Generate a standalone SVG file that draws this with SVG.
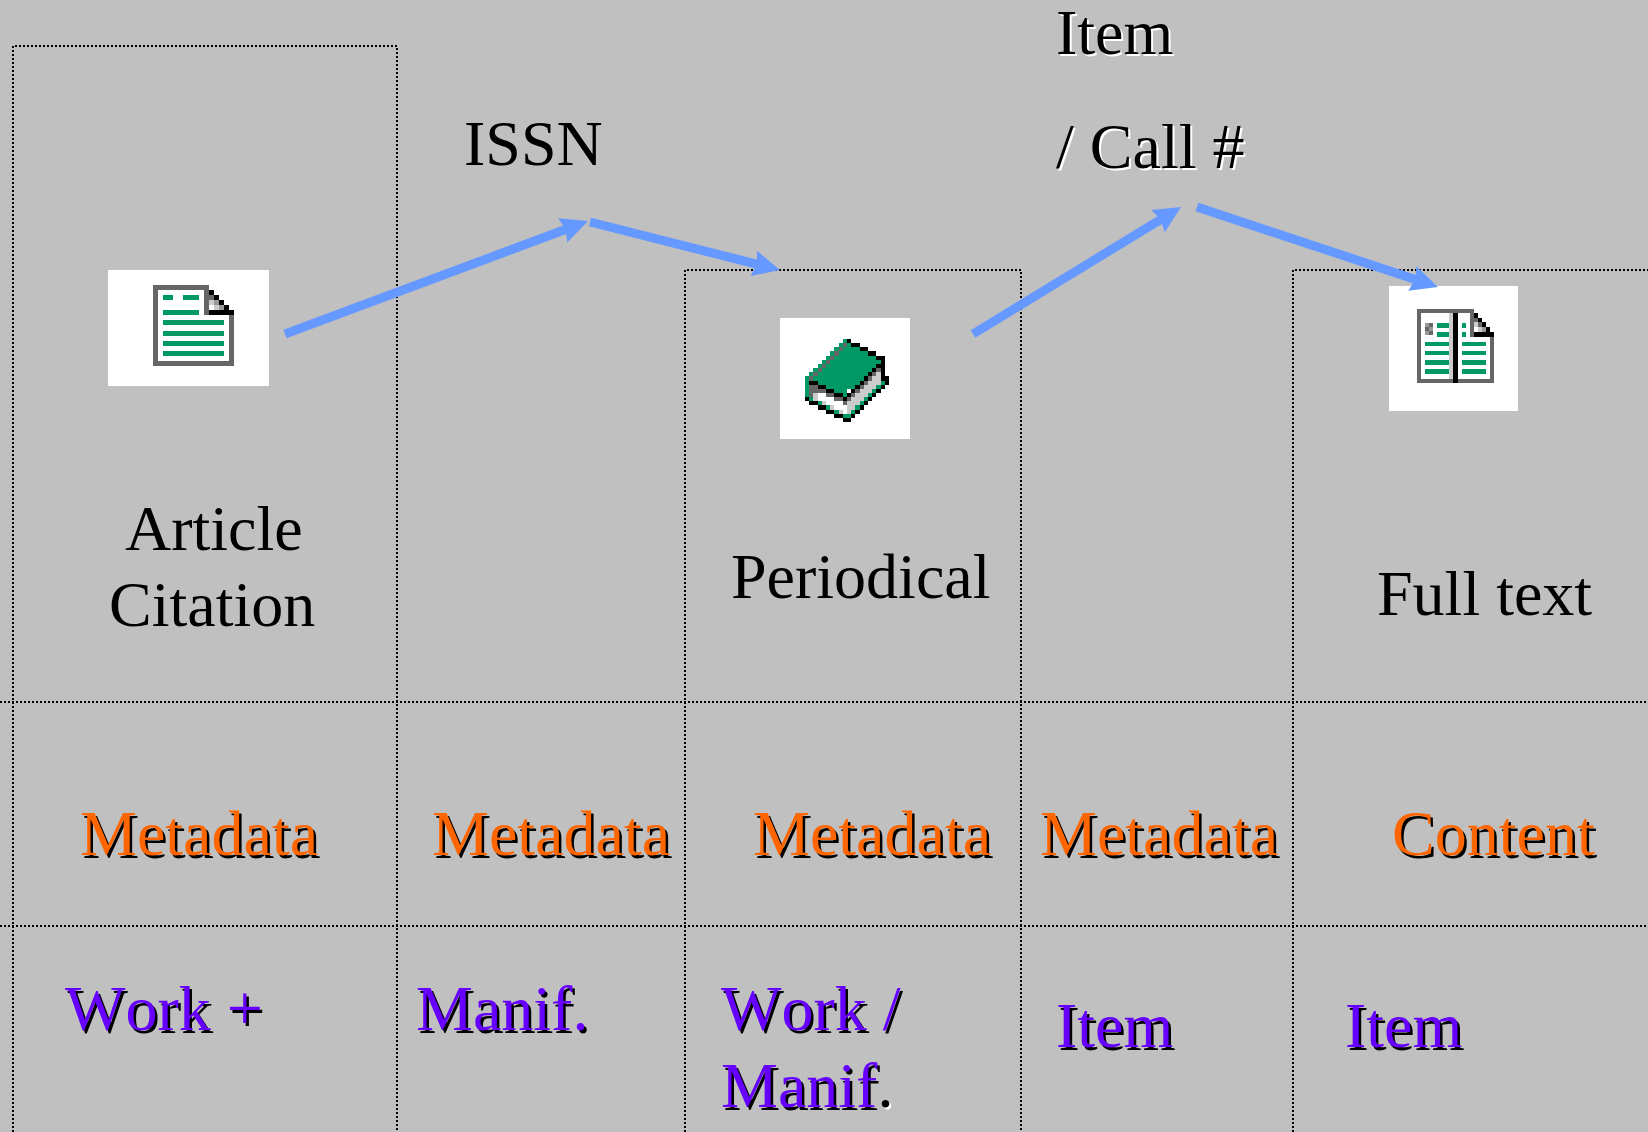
<svg xmlns="http://www.w3.org/2000/svg" width="1648" height="1132" viewBox="0 0 1648 1132">
<style>
text{font-family:"Liberation Serif","Times New Roman",serif;font-size:64px;font-kerning:none}
.k{fill:#000}
.o{fill:#f60;text-shadow:2.5px 2.5px 0 #000}
.p{fill:#60f;text-shadow:2.5px 2.5px 0 #000}
.w{fill:#000;text-shadow:2px 2px 0 #fff}
.grid{fill:none;stroke:#000;stroke-width:2;stroke-dasharray:2 2}
.arrow{fill:none;stroke:#69f;stroke-width:9;marker-end:url(#ah)}
.px{fill:none;stroke-width:1;shape-rendering:crispEdges}
.g{stroke:#096}.d{stroke:#666}.b{stroke:#000}.l{stroke:#ccc}.e{stroke:#fff}
.card{fill:#fff}
</style>
<defs>
<marker id="ah" markerUnits="userSpaceOnUse" markerWidth="30" markerHeight="30" refX="15" refY="14" orient="auto"><path d="M0 1L27 14L0 27L3 14Z" fill="#69f"/></marker>
</defs>
<rect width="1648" height="1132" fill="#c0c0c0"/>
<g id="grid" class="grid">
<path d="M13 1132V46H397V1132"/>
<path d="M685 1132V270H1021V1132"/>
<path d="M1293 1132V270H1648"/>
<path d="M0 702H1648M0 926H1648"/>
</g>
<g id="article">
<rect class="card" x="108" y="270" width="161" height="116"/>
<g transform="translate(153 285)" shape-rendering="crispEdges">
<path d="M0 0H56V30H76V76H5V5H51V30H56V30H81V81H0Z" fill="#666" fill-rule="evenodd"/>
<path d="M5 5H51V30H76V76H5Z" fill="#fff"/>
<path d="M10 10H20V15H10ZM30 10H46V15H30ZM10 25H46V30H10ZM10 35H71V40H10ZM10 46H71V51H10ZM10 56H71V61H10ZM10 66H71V71H10Z" fill="#096"/>
<path d="M56 5H61V10H56ZM61 10H66V15H61ZM66 15H71V20H66ZM71 20H76V25H71ZM56 25H81V30H56Z" fill="#000"/>
<path d="M56 10H61V15H56Z" fill="#666"/><path d="M56 15H61V20H56ZM61 20H66V25H61Z" fill="#ccc"/><path d="M61 15H66V20H61ZM66 20H71V25H66Z" fill="#999"/><path d="M56 20H61V25H56Z" fill="#fff"/>
</g>
<text class="k" x="125" y="550">Article</text>
<text class="k" x="109" y="626">Citation</text>
</g>
<g id="periodical">
<rect class="card" x="780" y="318" width="130" height="121"/>
<g class="px" transform="translate(805 339) scale(4.2 4.15)">
<path class="g" d="M9 .5h1M8 1.500h1M10 1.500h1M7 2.500h1M9 2.500h4M6 3.500h1M8 3.500h7M5 4.500h1M7 4.500h10M4 5.500h1M6 5.500h12M3 6.500h1M5 6.500h12M2 7.500h1M4 7.500h12M1 8.500h1M3 8.500h12M0 9.500h1M2 9.500h12M0 10.500h1M3 10.500h10M18 10.500h1M0 11.500h1M5 11.500h7M17 11.500h1M0 12.500h1M7 12.500h3M16 12.500h1M0 13.500h1M9 13.500h1M15 13.500h1M1 14.500h1M14 14.500h1M3 15.500h1M13 15.500h1M5 16.500h1M12 16.500h1M7 17.500h1M11 17.500h1M9 18.500h2"/>
<path class="b" d="M10 .5h1M11 1.500h2M13 2.500h2M15 3.500h2M17 4.500h2M18 5.500h1M17 6.500h2M16 7.500h1M18 7.500h1M15 8.500h1M18 8.500h1M14 9.500h1M18 9.500h2M1 10.500h2M13 10.500h1M19 10.500h1M3 11.500h2M12 11.500h1M18 11.500h1M5 12.500h2M11 12.500h1M17 12.500h1M7 13.500h2M10 13.500h1M16 13.500h1M0 14.500h1M9 14.500h1M15 14.500h1M1 15.500h2M14 15.500h1M3 16.500h2M13 16.500h1M5 17.500h2M12 17.500h1M7 18.500h2M11 18.500h1M9 19.500h2"/>
<path class="d" d="M9 1.500h1M8 2.500h1M7 3.500h1M6 4.500h1M5 5.500h1M4 6.500h1M3 7.500h1M17 7.500h1M2 8.500h1M16 8.500h1M1 9.500h1M15 9.500h1M14 10.500h1M1 11.500h2M13 11.500h1M1 12.500h4M12 12.500h1M1 13.500h1M5 13.500h2M11 13.500h1M7 14.500h2M10 14.500h1M9 15.500h1"/>
<path class="l" d="M17 8.500h1M16 9.500h2M15 10.500h3M14 11.500h3M13 12.500h3M2 13.500h1M12 13.500h3M2 14.500h1M11 14.500h3M4 15.500h1M10 15.500h3M6 16.500h1M10 16.500h2M8 17.500h1M10 17.500h1"/>
<path class="e" d="M3 13.500h2M3 14.500h4M5 15.500h4M7 16.500h3M9 17.500h1"/>
</g>
<text class="k" x="731" y="598">Periodical</text>
</g>
<g id="fulltext">
<rect class="card" x="1389" y="286" width="129" height="125"/>
<g transform="translate(1417 309)" shape-rendering="crispEdges">
<path d="M0 0H57V28H53V4H4V70H73V28H77V74H0Z" fill="#666"/>
<path d="M32 4H36V70H32Z" fill="#ccc"/>
<path d="M36 4H41V74H36Z" fill="#000"/>
<path d="M8 14H12V18H8ZM12 18H16V22H12ZM8 22H12V26H8Z" fill="#999"/>
<path d="M12 14H16V18H12ZM8 18H12V22H8ZM12 22H16V26H12Z" fill="#666"/>
<path d="M20 14H32V19H20ZM20 23H32V28H20ZM45 14H49V19H45ZM45 23H49V28H45ZM8 33H32V37H8ZM45 33H69V37H45ZM8 42H32V46H8ZM45 42H69V46H45ZM8 51H32V56H8ZM45 51H69V56H45ZM8 60H32V65H8ZM45 60H69V65H45Z" fill="#096"/>
<path d="M57 4H61V9H57ZM61 9H65V13H61ZM65 13H69V18H65ZM69 18H73V23H69ZM57 23H77V28H57Z" fill="#000"/>
<path d="M57 9H61V13H57ZM61 13H65V18H61Z" fill="#666"/><path d="M57 13H61V18H57Z" fill="#ccc"/><path d="M57 18H61V23H57Z" fill="#fff"/><path d="M61 18H65V23H61Z" fill="#ccc"/><path d="M65 18H69V23H65Z" fill="#999"/>
</g>
<text class="k" x="1377" y="615">Full text</text>
</g>
<g id="connectors">
<path class="arrow" d="M285 334L576.800 225.200"/>
<path class="arrow" d="M590 222L768.400 267.100"/>
<path class="arrow" d="M973 334L1170.800 213.300"/>
<path class="arrow" d="M1197 207L1426.600 283.200"/>
</g>
<g id="issn"><text class="k" x="464" y="165">ISSN</text></g>
<g id="item-call"><text class="w" x="1056" y="54">Item</text><text class="w" x="1056" y="168">/ Call #</text></g>
<g id="row-metadata">
<text class="o" x="80" y="855">Metadata</text>
<text class="o" x="432" y="855">Metadata</text>
<text class="o" x="753" y="855">Metadata</text>
<text class="o" x="1040" y="855">Metadata</text>
<text class="o" x="1392" y="855">Content</text>
</g>
<g id="row-frbr">
<text class="p" x="65" y="1030">Work +</text>
<text class="p" x="416" y="1030">Manif.</text>
<text class="p" x="721" y="1030">Work /</text>
<text class="p" x="721" y="1107">Manif<tspan style="fill:#000;text-shadow:2px 2px 0 #fff">.</tspan></text>
<text class="p" x="1056" y="1047">Item</text>
<text class="p" x="1345" y="1047">Item</text>
</g>
</svg>
